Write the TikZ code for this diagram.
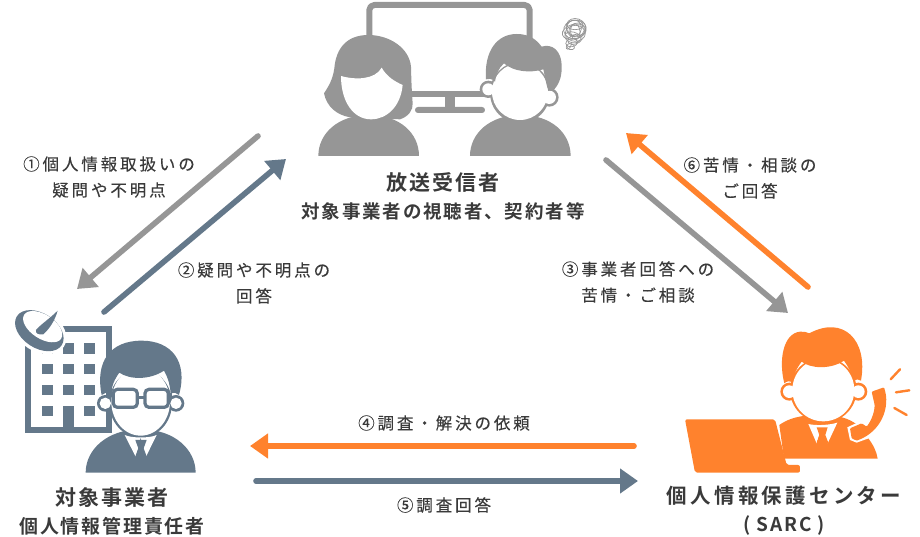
\documentclass[tikz,border=0pt]{standalone}
\usepackage{fontspec}
\usetikzlibrary{arrows.meta}
\newfontfamily\lblfont[LetterSpace=17.5,FakeBold=0.25]{Noto Sans CJK JP}
\newfontfamily\ttlfont[LetterSpace=10]{Noto Sans CJK JP Bold}
\newfontfamily\sarcfont[LetterSpace=16]{Noto Sans CJK JP Bold}
\definecolor{gr}{HTML}{969696}
\definecolor{sl}{HTML}{64788A}
\definecolor{og}{HTML}{FF822D}
\definecolor{tx}{HTML}{3A3A3A}
\tikzset{
  link/.style={line width=5.6pt,line cap=round,-{Triangle[length=18pt,width=24pt]}},
  lbl/.style={text=tx,inner sep=0pt,align=center,font={\lblfont\fontsize{16.5}{26}\selectfont}},
  ttl/.style={text=tx,inner sep=0pt,align=center,font={\ttlfont\fontsize{19}{28}\selectfont}},
  zoomed/.style={x=0.3333pt,y=-0.3333pt},
}
\begin{document}
\begin{tikzpicture}[x=1pt,y=-1pt]
\useasboundingbox (0,0) rectangle (920,537);
% ---------- viewers
\begin{scope}[shift={(300,0)},zoomed]
 \draw[gr,line width=6pt,rounded corners=5pt,line join=round] (208,130) -- (208,15) -- (689,15) -- (689,130);
 \fill[gr] (300,272) rectangle (600,290);
 \fill[gr] (434,285) rectangle (465,325);
 \fill[gr,rounded corners=2.9pt] (345,321) rectangle (555,339);
 % woman
 \fill[gr] (205,105) .. controls (140,105) and (108,145) .. (103,205) .. controls (98,240) and (85,260) .. (72,280)
   .. controls (80,320) and (110,345) .. (150,352) -- (300,358) .. controls (325,350) and (340,330) .. (338,310)
   .. controls (335,270) and (334,240) .. (333,200) .. controls (328,145) and (270,105) .. (205,105) -- cycle;
 \fill[gr] (55,468) .. controls (55,400) and (115,345) .. (206,345) .. controls (300,345) and (357,400) .. (357,468) -- cycle;
 \fill[white] (123,228) .. controls (165,240) and (225,240) .. (245,203) .. controls (260,230) and (285,245) .. (308,255)
   .. controls (302,320) and (260,358) .. (213,358) .. controls (160,358) and (123,305) .. (123,228) -- cycle;
 % man
 \fill[gr] (510,468) .. controls (510,400) and (570,345) .. (661,345) .. controls (755,345) and (812,400) .. (812,468) -- cycle;
 \fill[gr] (565,268) circle (26);
 \fill[gr] (748,292) circle (28);
 \fill[gr] (660,278) ellipse (90 and 92);
 \fill[white] (565,268) circle (18);
 \fill[white] (748,292) circle (20);
 \fill[white] (660,275) ellipse (84 and 85);
 \fill[gr] (558,238) .. controls (552,155) and (590,102) .. (650,102) .. controls (690,102) and (710,120) .. (725,140)
   .. controls (755,130) and (787,150) .. (785,205) .. controls (785,235) and (775,255) .. (760,272) -- (745,272)
   .. controls (738,250) and (735,230) .. (730,208) .. controls (690,220) and (640,215) .. (612,190)
   .. controls (595,205) and (588,225) .. (585,245) .. controls (575,235) and (565,235) .. (558,238) -- cycle;
 \begin{scope}[gr,line width=0.7pt]
  \foreach \ex/\ey/\ea/\eb/\er in {825/88/34/28/10,828/82/30/26/-20,822/95/36/22/15,826/100/30/24/0,830/90/24/20/30,822/85/22/25/-10,818/112/24/16/-15,825/118/22/14/20,815/128/18/12/10,825/75/24/14/0,812/140/12/9/-20,826/95/14/24/5}
   {\draw[rotate around={\er:(\ex,\ey)}] (\ex,\ey) ellipse ({\ea} and {\eb});}
  \draw (800,135) .. controls (795,155) and (810,150) .. (815,132);
 \end{scope}
\end{scope}
% ---------- operator
\begin{scope}[shift={(0,300)},zoomed]
 \fill[sl] (75,78) rectangle (335,400);
 \fill[white] (93,97) rectangle (318,382);
 \foreach \cx in {127,190,253}{\foreach \cy in {130,192,255}{\fill[sl] (\cx,\cy) rectangle ++(31,31);}}
 \fill[sl] (127,318) rectangle ++(31,31);
 \fill[sl] (253,318) rectangle ++(31,31);
 \fill[sl] (190,318) rectangle (221,382);
 % dish
 \fill[white,rotate around={-33:(118,92)}] (118,92) ellipse (88 and 62);
 \fill[sl,rotate around={-33:(118,92)}] (118,92) ellipse (80 and 52);
 \fill[white,rotate around={-33:(128,80)}] (128,80) ellipse (66 and 36);
 \fill[sl] (108,90) .. controls (120,75) and (150,55) .. (173,32) .. controls (165,60) and (150,85) .. (130,103)
   .. controls (115,105) and (105,100) .. (108,90) -- cycle;
 % person
 \fill[sl] (257,518) .. controls (257,450) and (320,388) .. (422,388) .. controls (525,388) and (587,450) .. (587,518) -- cycle;
 \fill[sl] (316,310) circle (25);
 \fill[sl] (528,310) circle (25);
 \fill[sl] (422,310) ellipse (94 and 103);
 \fill[white] (316,310) circle (17);
 \fill[white] (528,310) circle (17);
 \fill[white] (422,305) ellipse (88 and 102);
 \fill[sl] (305,285) .. controls (285,185) and (330,122) .. (425,122) .. controls (515,122) and (565,185) .. (537,285)
   .. controls (530,278) and (520,276) .. (512,280) .. controls (510,255) and (505,235) .. (492,212)
   .. controls (450,240) and (390,240) .. (358,218) .. controls (342,240) and (335,260) .. (333,280)
   .. controls (322,276) and (312,278) .. (305,285) -- cycle;
 \draw[sl,line width=3.2pt,rounded corners=4pt] (340,268) rectangle (412,322);
 \draw[sl,line width=3.2pt,rounded corners=4pt] (435,268) rectangle (505,322);
 \draw[sl,line width=3.2pt] (412,293) -- (435,293) (330,285) -- (340,285) (505,285) -- (515,285);
 \fill[white] (374,405) -- (408,472) -- (422,412) -- (437,472) -- (470,405) .. controls (450,415) and (395,415) .. (374,405) -- cycle;
 \fill[sl] (406,420) -- (440,420) -- (431,445) -- (441,472) -- (423,490) -- (405,472) -- (415,445) -- cycle;
\end{scope}
% ---------- SARC
\begin{scope}[shift={(660,310)},zoomed]
 \fill[og,rounded corners=2pt] (75,328) -- (345,328) -- (380,465) -- (420,465) -- (420,488) -- (105,488) -- cycle;
 \fill[og] (358,345) .. controls (400,315) and (450,315) .. (490,315) .. controls (550,315) and (600,335) .. (625,385)
   .. controls (640,405) and (650,425) .. (653,446) -- (372,446) -- cycle;
 \fill[og] (388,245) circle (27);
 \fill[og] (595,245) circle (27);
 \fill[og] (490,240) ellipse (100 and 98);
 \fill[white] (388,245) circle (19);
 \fill[white] (595,245) circle (19);
 \fill[white] (490,240) ellipse (93 and 94);
 \fill[og] (373,220) .. controls (355,150) and (370,70) .. (420,65) .. controls (430,65) and (440,65) .. (448,70)
   .. controls (550,15) and (625,90) .. (603,212) .. controls (595,207) and (588,207) .. (582,212)
   .. controls (575,190) and (565,170) .. (552,152) .. controls (510,180) and (450,175) .. (425,155)
   .. controls (410,175) and (400,195) .. (398,218) .. controls (390,212) and (380,213) .. (373,220) -- cycle;
 \fill[white] (445,342) -- (470,400) -- (485,352) -- (503,400) -- (532,338) .. controls (510,345) and (470,348) .. (445,342) -- cycle;
 \fill[og] (470,352) -- (503,352) -- (496,375) -- (505,398) -- (487,415) -- (470,398) -- (478,375) -- cycle;
 \draw[white,line width=3pt,line join=round] (570,355) -- (605,340) -- (620,350) (590,392) -- (575,385) -- (570,355);
 \fill[white] (590,398) -- (570,390) -- (562,352) -- (605,332) -- (640,350) -- (640,380) -- cycle;
 \fill[og,rounded corners=1pt] (635,245) -- (672,232)
   .. controls (692,290) and (665,365) .. (590,392) -- (575,385) -- (570,355) -- (605,340) -- (620,350)
   .. controls (632,335) and (643,310) .. (644,285) -- cycle;
 \draw[og,line width=2.4pt,line cap=round] (692,208) -- (720,178) (708,247) -- (748,241) (703,294) -- (740,315);
\end{scope}
% ---------- connectors
\coordinate (a1) at (258,136); \coordinate (a2) at (77,289);
\coordinate (b1) at (104,312); \coordinate (b2) at (286,159);
\coordinate (c1) at (606,160); \coordinate (c2) at (788,313);
\coordinate (d1) at (808,287); \coordinate (d2) at (626,133);
\coordinate (e1) at (634,446); \coordinate (e2) at (250,446);
\coordinate (f1) at (256,481); \coordinate (f2) at (638,481);
\draw[link,gr] (a1) -- (a2);
\draw[link,sl] (b1) -- (b2);
\draw[link,gr] (c1) -- (c2);
\draw[link,og] (d1) -- (d2);
\draw[link,og] (e1) -- (e2);
\draw[link,sl] (f1) -- (f2);
% ---------- text
\node[ttl] (viewers) at (443,196) {{\fontsize{21}{28}\selectfont 放送受信者}\\{\fontsize{18.5}{28}\selectfont 対象事業者の視聴者、契約者等}};
\node[ttl] (operator) at (112,511) {{\fontsize{21}{28}\selectfont 対象事業者}\\{\fontsize{18.9}{28}\selectfont 個人情報管理責任者}};
\node[ttl] (sarc) at (784,511) {{\sarcfont\fontsize{20.5}{28}\selectfont 個人情報保護センター}\\{\fontsize{19}{28}\selectfont ( SARC )}};
\node[lbl] (l1) at (109,177) {①個人情報取扱いの\\疑問や不明点};
\node[lbl] (l2) at (254,283) {②疑問や不明点の\\回答};
\node[lbl] (l3) at (638,282) {③事業者回答への\\苦情・ご相談};
\node[lbl] (l6) at (750,178) {⑥苦情・相談の\\ご回答};
\node[lbl] (l4) at (444,423) {④調査・解決の依頼};
\node[lbl] (l5) at (444,505) {⑤調査回答};
\end{tikzpicture}
\end{document}
